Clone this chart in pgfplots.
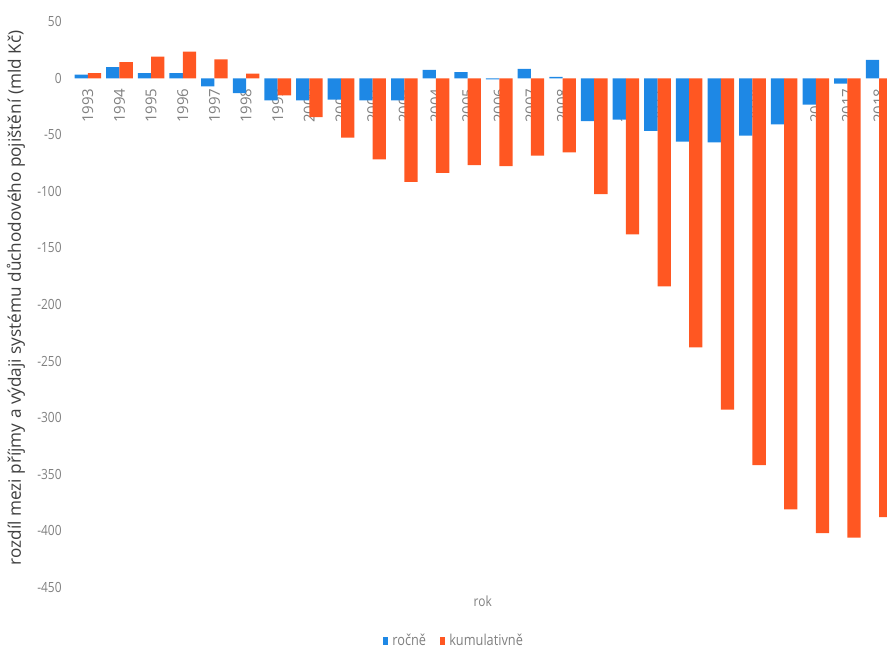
\documentclass[border=0pt]{standalone}
\usepackage{pgfplots}
\pgfplotsset{compat=1.18}
\usepackage{fontspec}
\setmainfont{Open Sans}
\newfontfamily\condfont{Open Sans}[FakeStretch=0.85]
\definecolor{cblue}{HTML}{1E88E5}
\definecolor{corange}{HTML}{FF5722}
\definecolor{tickgray}{HTML}{808080}
\definecolor{labgray}{HTML}{404040}
\begin{document}
\begin{tikzpicture}
\path[use as bounding box] (-36pt,-30.35pt) rectangle (407.5pt,293.65pt);
\begin{axis}[
  at={(0,0)}, anchor=south west,
  scale only axis, width=407.5pt, height=282.8pt,
  xmin=-0.5, xmax=25.25, ymin=-450, ymax=50,
  axis x line*=middle, axis y line*=left,
  hide obscured y ticks=false,
  axis line style={draw=none}, major tick length=0pt,
  ybar, bar width=0.42,
  xtick={0,...,25},
  xticklabels={1993,1994,1995,1996,1997,1998,1999,2000,2001,2002,2003,2004,2005,2006,2007,2008,2009,2010,2011,2012,2013,2014,2015,2016,2017,2018},
  x tick label style={rotate=90, anchor=east, inner ysep=0pt, inner xsep=5pt, font=\fontsize{7.5}{9}\selectfont, text=tickgray},
  ytick={-450,-400,-350,-300,-250,-200,-150,-100,-50,0,50},
  yticklabels={-450,-400,-350,-300,-250,-200,-150,-100,-50,0,50},
  y tick label style={anchor=east, inner sep=0pt, xshift=-5pt, font=\condfont\fontsize{7}{8}\selectfont, text=tickgray},
  xlabel={rok},
  xlabel style={at={(axis description cs:0.504,-0.0242)}, anchor=center, font=\condfont\fontsize{7}{8}\selectfont, text=tickgray},
  ylabel={rozdíl mezi příjmy a výdaji systému důchodového pojištění (mld Kč)},
  ylabel style={at={(axis description cs:-0.0687,0.5115)}, anchor=center, font=\fontsize{8.6}{10}\selectfont, text=labgray},
  legend style={at={(axis description cs:0.47,-0.095)}, anchor=center, draw=none, fill=none, legend columns=2, inner sep=0pt,
    font=\condfont\fontsize{7.5}{9}\selectfont, text=tickgray,
    /tikz/every even column/.append style={column sep=5pt}},
  legend image code/.code={\path[#1,draw=none] (0pt,-2pt) rectangle (2.6pt,2pt);},
]
\addplot[fill=cblue, draw=none, bar shift=-0.21] coordinates {
(0,3.3) (1,9.8) (2,4.5) (3,4.5) (4,-7.2) (5,-13.1) (6,-19.6) (7,-19.6) (8,-19.0) (9,-19.6)
(10,-19.6) (11,7.5) (12,5.4) (13,-1.0) (14,8.4) (15,1.2) (16,-37.8) (17,-36.6) (18,-46.6) (19,-56.0)
(20,-56.6) (21,-50.7) (22,-40.7) (23,-23.3) (24,-4.8) (25,16.3)};
\addlegendentry{ročně}
\addplot[fill=corange, draw=none, bar shift=0.21] coordinates {
(0,4.5) (1,14.2) (2,19.2) (3,23.6) (4,16.8) (5,4.0) (6,-15.2) (7,-34.3) (8,-52.4) (9,-71.8)
(10,-91.5) (11,-83.6) (12,-76.8) (13,-77.7) (14,-68.3) (15,-65.6) (16,-102.4) (17,-138) (18,-184) (19,-238)
(20,-293) (21,-342) (22,-381) (23,-402) (24,-406) (25,-388)};
\addlegendentry{kumulativně}
\end{axis}
\end{tikzpicture}
\end{document}
